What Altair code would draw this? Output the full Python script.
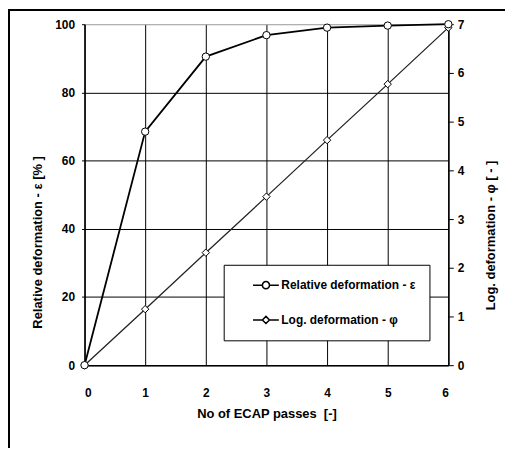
import altair as alt
import pandas as pd

passes = [0, 1, 2, 3, 4, 5, 6]
rel_def = [0, 68.5, 90.5, 96.8, 99.0, 99.6, 100.0]
log_def = [0, 1.15, 2.31, 3.46, 4.62, 5.77, 6.93]
series = ["Relative deformation - ε", "Log. deformation - φ"]
x_ticks = [0, 1, 2, 3, 4, 5, 6]
left_ticks = [0, 20, 40, 60, 80, 100]
right_ticks = [0, 1, 2, 3, 4, 5, 6, 7]

df = pd.DataFrame({"N": passes, "eps": rel_def, "phi": log_def})
leg_df = pd.DataFrame({"series": series, "N": [0, 0], "eps": [0, 0]})

FONT = "Liberation Sans, Arial"

xenc = alt.X("N:Q", scale=alt.Scale(domain=[0, 6], nice=False),
             axis=alt.Axis(values=x_ticks, format="d", title="No of ECAP passes\u00a0\u00a0[-]",
                           tickSize=0, labelPadding=23, grid=True, gridColor="#000",
                           gridOpacity=1, gridWidth=1, domainColor="#000", domainWidth=1.5,
                           titleY=49, titleBaseline="middle", titleFontSize=13))

yleft = alt.Y("eps:Q", scale=alt.Scale(domain=[0, 100], nice=False),
              axis=alt.Axis(values=left_ticks, title="Relative deformation - ε [% ]",
                            tickSize=3, tickColor="#000", labelPadding=7, grid=True,
                            gridColor={"condition": {"test": "datum.value === 100", "value": "#999"}, "value": "#000"},
                            gridOpacity=1, domainColor="#000", domainWidth=1.5,
                            titleX=-47, titleY=219, titleAngle=-90, titleAlign="center",
                            titleBaseline="middle", titleFontSize=13))

yright = alt.Y("phi:Q", scale=alt.Scale(domain=[0, 7], nice=False),
               axis=alt.Axis(values=right_ticks, orient="right", title="Log. deformation - φ [ - ]",
                             tickSize=5, tickColor="#000", labelPadding=4, grid=False,
                             domainColor="#000", domainWidth=1.5,
                             titleX=42, titleY=212, titleAngle=-90, titleAlign="center",
                             titleBaseline="middle", titleFontSize=13))

base = alt.Chart(df)

line_eps = base.mark_line(color="#000", strokeWidth=1.8).encode(x=xenc, y=yleft)
pts_eps = base.mark_point(shape="circle", size=55, fill="white", stroke="#000",
                          strokeWidth=1, opacity=1, filled=False).encode(x="N:Q", y="eps:Q")

circ = ("M-2,0L-0.55,0M0.55,0L2,0M0.55,0A0.55,0.55,0,1,1,-0.55,0"
        "A0.55,0.55,0,1,1,0.55,0Z")
diam = "M-2,0L-0.55,0M0.55,0L2,0M-0.55,0L0,-0.55L0.55,0L0,0.55Z"

legend_layer = alt.Chart(leg_df).transform_filter("false").mark_point(
    color="#000", filled=False, strokeWidth=1.5, opacity=1
).encode(
    x="N:Q", y="eps:Q",
    shape=alt.Shape("series:N", scale=alt.Scale(domain=series, range=[circ, diam]),
                    legend=alt.Legend(orient="none", legendX=140, legendY=242, title=None,
                                      direction="vertical", fillColor="white", strokeColor="#000",
                                      padding=13, symbolSize=169, symbolOffset=22,
                                      labelOffset=8, rowPadding=20,
                                      symbolStrokeColor="#000", symbolStrokeWidth=1.5,
                                      labelFont=FONT, labelFontSize=12, labelFontWeight="bold",
                                      labelColor="#000", symbolOpacity=1))
)

left = alt.layer(line_eps, pts_eps, legend_layer)

line_phi = base.mark_line(color="#222", strokeWidth=1.3).encode(x="N:Q", y=yright)
pts_phi = base.mark_point(shape="diamond", size=55, fill="white", stroke="#000",
                          strokeWidth=1, opacity=1, filled=False).encode(x="N:Q", y="phi:Q")
right = alt.layer(line_phi, pts_phi)

frame_left = alt.Chart(df).mark_rule(color="#000", strokeWidth=1.5).encode(
    x=alt.value(-76.25), y=alt.value(-14.25), y2=alt.value(430))
frame_top = alt.Chart(df).mark_rule(color="#000", strokeWidth=1.5).encode(
    x=alt.value(-77), x2=alt.value(430), y=alt.value(-14.25))

chart = alt.layer(right, left, frame_left, frame_top).resolve_scale(
    y="independent", shape="independent"
).properties(
    width=366, height=343,
    autosize=alt.AutoSizeParams(type="none"),
    padding={"left": 77, "top": 15, "right": 57, "bottom": 82},
).configure_axis(
    labelFont=FONT, labelFontSize=12, labelFontWeight="bold", labelColor="#000",
    titleFont=FONT, titleFontWeight="bold", titleColor="#000",
).configure_view(stroke=None).configure_legend(strokeColor="#000")

chart.save("out.html", embed_options={"renderer": "svg", "actions": False})
